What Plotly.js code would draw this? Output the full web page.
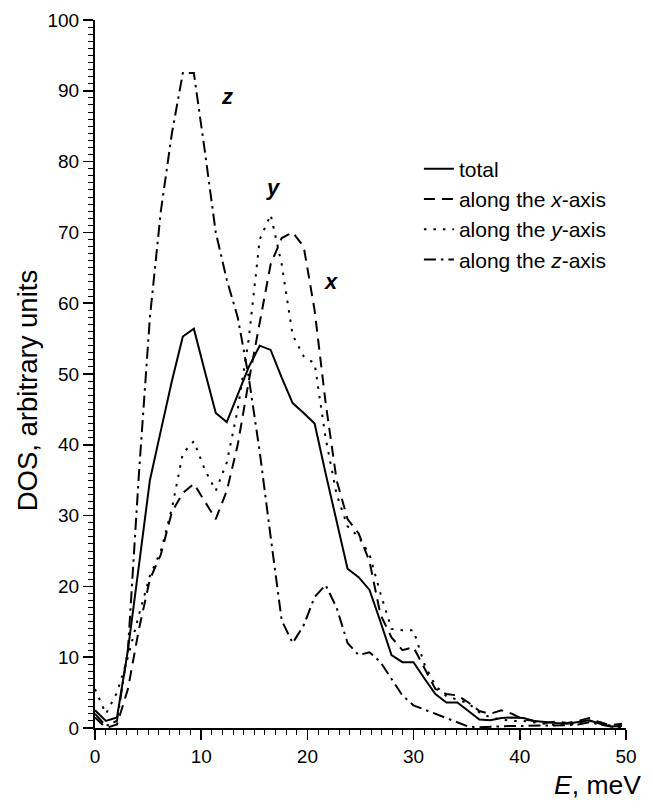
<!DOCTYPE html>
<html>
<head>
<meta charset="utf-8">
<script src="https://cdn.plot.ly/plotly-3.0.1.min.js"></script>
<style>html,body{margin:0;padding:0;background:#fff;}#chart{width:653px;height:810px;}</style>
</head>
<body>
<div id="chart"></div>
<script>
// Energy grid, meV
const energy = [0, 1.03, 2.07, 3.10, 4.14, 5.17, 6.20, 7.24, 8.27, 9.31,
  10.34, 11.37, 12.41, 13.44, 14.48, 15.51, 16.54, 17.58, 18.61, 19.65,
  20.68, 21.71, 22.75, 23.78, 24.82, 25.85, 26.88, 27.92, 28.95, 29.99,
  31.02, 32.05, 33.09, 34.12, 35.16, 36.19, 37.22, 38.26, 39.29, 40.33,
  41.36, 42.39, 43.43, 44.46, 45.50, 46.53, 47.56, 48.60, 49.63];

const dosTotal = [2.5, 1.0, 1.5, 11, 23, 35, 42, 49, 55.3, 56.4,
  50.4, 44.5, 43.2, 47, 51, 54, 53.4, 49.5, 45.9, 44.5,
  43.0, 36, 29, 22.5, 21.3, 19.5, 15, 10.3, 9.3, 9.3,
  7, 4.8, 3.6, 3.6, 2.4, 1.2, 1.1, 1.4, 1.5, 1.4,
  1.0, 0.8, 0.7, 0.6, 0.9, 1.1, 0.6, 0.2, 0.3];

const dosX = [1.5, 0, 0.5, 5.5, 14, 21, 24.5, 30.5, 33.2, 34.5,
  32, 29.5, 33.5, 40, 49, 57.5, 65.5, 69.2, 70, 68,
  59, 46, 35, 29.5, 27.5, 23.5, 16, 12.8, 11, 11.4,
  8.5, 5.5, 4.8, 4.6, 3.6, 2.4, 2.0, 2.5, 2.0, 1.2,
  1.0, 0.7, 0.9, 0.7, 1.0, 1.4, 0.8, 0.4, 0.6];

const dosY = [5.5, 2.0, 5, 10, 16, 21.5, 25, 31, 38.8, 40.5,
  36.5, 33.5, 37.5, 45, 55, 69, 72.5, 65.5, 55.5, 52.5,
  51.5, 41, 33, 28.5, 27, 24.5, 19, 14, 13.8, 13.8,
  9, 6, 4.5, 4, 3.5, 2.2, 1.5, 1.2, 1.0, 1.0,
  0.8, 0.5, 0.4, 0.5, 0.6, 1.0, 0.8, 0.3, 0.2];

const dosZ = [2.0, 0.3, 1, 11, 36, 58, 73, 84, 92.5, 92.5,
  81.5, 70, 63.3, 58, 49.5, 39, 27, 15.2, 12, 14.5,
  18.5, 20.2, 17, 12, 10.3, 10.7, 9.3, 7, 4.6, 3.2,
  2.6, 1.9, 1.3, 0.7, 0.2, 0.1, 0.2, 0.3, 0.3, 0.3,
  0.3, 0.3, 0.4, 0.4, 0.5, 0.8, 0.5, 0.2, 0.1];

const seriesNames = ['total', 'along the <i>x</i>-axis', 'along the <i>y</i>-axis', 'along the <i>z</i>-axis'];
const curveLabels = ['<b><i>z</i></b>', '<b><i>y</i></b>', '<b><i>x</i></b>'];
const curveLabelE = [12.45, 16.8, 22.2];
const curveLabelD = [89.2, 76.4, 63.0];
const xAxisTitle = '<i>E</i>, meV';
const yAxisTitle = 'DOS, arbitrary units';

const FONT = 'Arial, "Liberation Sans", Helvetica, sans-serif';
const series = [dosTotal, dosX, dosY, dosZ];
const dashes = ['solid', '11px,7px', '2.5px,7px', '12px,5px,2.5px,5px'];

const traces = series.map((s, i) => ({
  type: 'scatter', mode: 'lines', x: energy, y: s, name: seriesNames[i],
  line: {color: '#000', width: 2, dash: dashes[i]}, hoverinfo: 'skip'
}));

const annotations = curveLabels.map((t, i) => ({
  text: t, x: curveLabelE[i], y: curveLabelD[i], xref: 'x', yref: 'y',
  showarrow: false, font: {family: FONT, size: 22, color: '#000'}
}));
annotations.push({
  text: xAxisTitle, xref: 'paper', yref: 'paper', x: 1.032, y: -0.081,
  xanchor: 'right', yanchor: 'middle', showarrow: false,
  font: {family: FONT, size: 26.5, color: '#000'}
});
annotations.push({
  text: yAxisTitle, xref: 'paper', yref: 'paper', x: -0.128, y: 0.4756,
  xanchor: 'center', yanchor: 'middle', textangle: -90, showarrow: false,
  font: {family: FONT, size: 27.5, color: '#000'}
});

const axisCommon = {
  showgrid: false, zeroline: false, showline: true, linecolor: '#000', linewidth: 2,
  ticks: 'outside', ticklen: 10, tickwidth: 1.5, tickcolor: '#000',
  tickfont: {family: FONT, size: 19, color: '#000'},
  minor: {ticks: 'outside', ticklen: 5, tickwidth: 1, tickcolor: '#000', dtick: 1, showgrid: false}
};

const layout = {
  width: 653, height: 810, autosize: false,
  margin: {l: 95, r: 27, t: 20, b: 82},
  paper_bgcolor: '#fff', plot_bgcolor: '#fff',
  font: {family: FONT, color: '#000'},
  showlegend: true,
  legend: {x: 0.61, y: 0.8185, xanchor: 'left', yanchor: 'top', bgcolor: 'rgba(0,0,0,0)',
    font: {family: FONT, size: 21, color: '#000'}, tracegroupgap: 0},
  xaxis: Object.assign({}, axisCommon, {range: [0, 50], dtick: 10, tick0: 0}),
  yaxis: Object.assign({}, axisCommon, {range: [0, 100], dtick: 10, tick0: 0}),
  annotations: annotations
};

Plotly.newPlot('chart', traces, layout, {displayModeBar: false, staticPlot: true});
</script>
</body>
</html>
